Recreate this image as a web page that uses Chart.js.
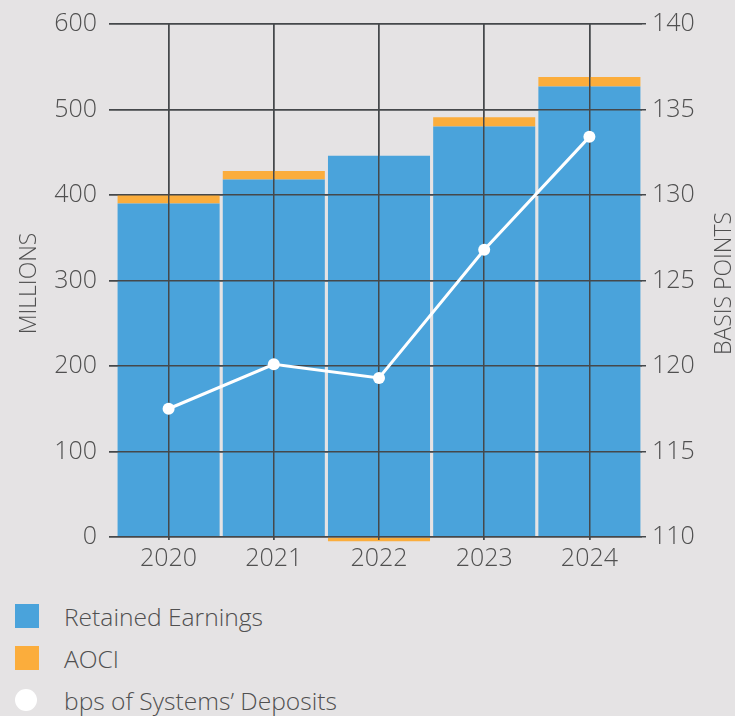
<!DOCTYPE html>
<html>
<head>
<meta charset="utf-8">
<script src="https://cdn.jsdelivr.net/npm/chart.js@4.4.1/dist/chart.umd.min.js"></script>
<style>
  html, body { margin: 0; padding: 0; background: #e5e3e4; }
  #wrap { position: relative; width: 735px; height: 716px; overflow: hidden;
          font-family: "Open Sans", sans-serif; font-weight: 300; color: #505050; }
  #box { position: absolute; left: 0; top: 0; width: 735px; height: 580px; }
  #legend { position: absolute; left: 15px; top: 595px; margin: 0; padding: 0; list-style: none; }
  #legend li { height: 42px; display: flex; align-items: center; font-size: 24.6px; }
  #legend .sw { width: 24px; height: 24px; margin-right: 25px; }
  #legend .dot { width: 22px; height: 22px; border-radius: 50%; margin-right: 27px; }
</style>
</head>
<body>
<div id="wrap">
  <div id="box"><canvas id="chart"></canvas></div>
  <ul id="legend"></ul>
</div>
<script>
// data
const years = ['2020', '2021', '2022', '2023', '2024'];
const retained = [390, 418, 446, 480, 527];
const aoci = [10, 10, -5, 11, 11];
const bps = [117.5, 120.1, 119.3, 126.8, 133.4];

const BLUE = '#4aa3db';
const ORANGE = '#fbad3c';
const GRID = '#45484b';
const TEXT = '#505050';
const FONT = '"Open Sans", sans-serif';

// grid lines over the bars but under the line
const gridOnTop = {
  id: 'gridOnTop',
  beforeDatasetDraw(chart, args) {
    if (args.meta.type !== 'line') return;
    chart.scales.x.drawGrid(chart.chartArea);
    chart.scales.y.drawGrid(chart.chartArea);
  }
};

// both axis titles read bottom-to-top
const axisTitles = {
  id: 'axisTitles',
  afterDraw(chart) {
    const ctx = chart.ctx;
    const a = chart.chartArea;
    const mid = (a.top + a.bottom) / 2 + 3;
    ctx.save();
    ctx.fillStyle = TEXT;
    ctx.font = '300 23px ' + FONT;
    ctx.textAlign = 'center';
    ctx.textBaseline = 'middle';
    [['MILLIONS', a.left - 87], ['BASIS POINTS', a.right + 82]].forEach(([t, x]) => {
      ctx.save();
      ctx.translate(x, mid);
      ctx.rotate(-Math.PI / 2);
      ctx.fillText(t, 0, 0);
      ctx.restore();
    });
    ctx.restore();
  }
};

const tickFont = { family: FONT, size: 25, weight: 300 };

// fixed axis sizes so the plot area lands where the original has it
const fitY = w => s => { s.width = w; s.paddingTop = 10; s.paddingBottom = 10; };

const chart = new Chart(document.getElementById('chart'), {
  type: 'bar',
  data: {
    labels: years,
    datasets: [
      {
        type: 'line',
        label: 'bps of Systems\u2019 Deposits',
        data: bps,
        yAxisID: 'y1',
        order: 0,
        borderColor: '#fff',
        backgroundColor: '#fff',
        borderWidth: 3,
        pointRadius: 6,
        pointBorderWidth: 0,
        tension: 0
      },
      {
        label: 'Retained Earnings',
        data: retained,
        yAxisID: 'y',
        order: 1,
        backgroundColor: BLUE,
        stack: 's',
        clip: false
      },
      {
        label: 'AOCI',
        data: aoci,
        yAxisID: 'y',
        order: 1,
        backgroundColor: ORANGE,
        stack: 's',
        clip: false
      }
    ]
  },
  options: {
    responsive: true,
    maintainAspectRatio: false,
    animation: false,
    layout: { padding: { top: 24, left: 0, right: 0, bottom: 0 } },
    datasets: { bar: { barPercentage: 0.97, categoryPercentage: 1 } },
    plugins: { legend: { display: false }, tooltip: { enabled: false } },
    scales: {
      x: {
        stacked: true,
        offset: true,
        border: { display: false },
        grid: { offset: false, color: GRID, lineWidth: 1.5, tickLength: 3 },
        ticks: { color: TEXT, padding: 4, font: tickFont },
        afterFit: s => { s.height = 43; }
      },
      y: {
        stacked: true,
        position: 'left',
        min: 0, max: 600,
        border: { display: false },
        grid: { color: GRID, lineWidth: 1.5, tickLength: 7 },
        ticks: { stepSize: 100, color: TEXT, padding: 12, font: tickFont },
        afterFit: fitY(116)
      },
      y1: {
        position: 'right',
        min: 110, max: 140,
        border: { display: false },
        grid: { drawOnChartArea: false, color: GRID, lineWidth: 1.5, tickLength: 4 },
        ticks: { stepSize: 5, color: TEXT, padding: 6, font: tickFont },
        afterFit: fitY(93)
      }
    }
  },
  plugins: [gridOnTop, axisTitles]
});

// legend
const legend = document.getElementById('legend');
[
  { label: 'Retained Earnings', color: BLUE, cls: 'sw' },
  { label: 'AOCI', color: ORANGE, cls: 'sw' },
  { label: 'bps of Systems\u2019 Deposits', color: '#fff', cls: 'dot' }
].forEach(item => {
  const li = document.createElement('li');
  const sw = document.createElement('span');
  sw.className = item.cls;
  sw.style.background = item.color;
  li.appendChild(sw);
  li.appendChild(document.createTextNode(item.label));
  legend.appendChild(li);
});
</script>
</body>
</html>
